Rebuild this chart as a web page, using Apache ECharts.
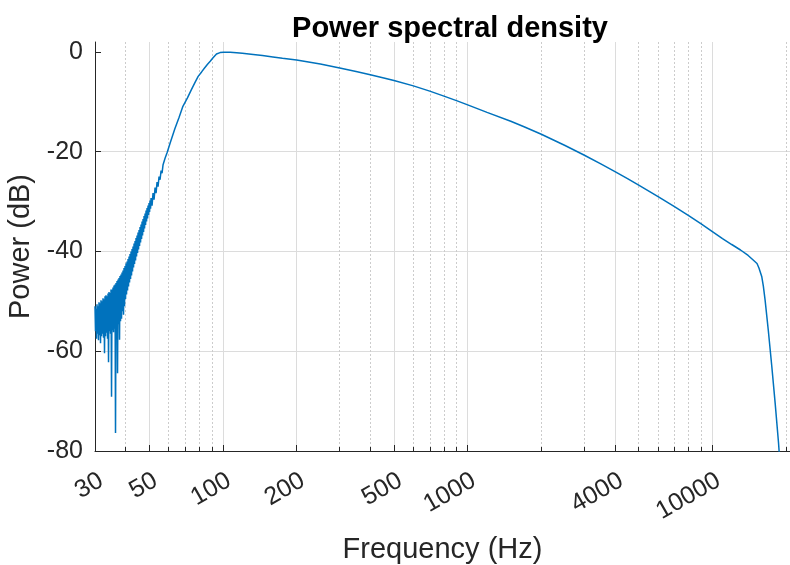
<!DOCTYPE html>
<html>
<head>
<meta charset="utf-8">
<script src="https://cdn.jsdelivr.net/npm/echarts@6/dist/echarts.min.js"></script>
<style>
html,body{margin:0;padding:0;background:#fff;}
#chart{width:790px;height:565px;}
</style>
</head>
<body>
<div id="chart"></div>
<script>
// Frequency (Hz) and power (dB)
const freqHz = [
  30.00,30.14,30.28,30.43,30.57,30.71,30.86,31.00,31.15,31.30,
  31.45,31.60,31.74,31.89,32.04,32.20,32.35,32.50,32.65,32.81,
  32.96,33.12,33.27,33.43,33.59,33.75,33.91,34.07,34.23,34.39,
  34.55,34.72,34.88,35.05,35.21,35.38,35.54,35.71,35.88,36.05,
  36.22,36.39,36.56,36.74,36.91,37.09,37.26,37.44,37.61,37.79,
  37.96,38.14,38.32,38.51,38.69,38.87,39.05,39.24,39.42,39.61,
  39.80,39.99,40.17,40.36,40.55,40.75,40.94,41.13,41.33,41.52,
  41.72,41.92,42.11,42.31,42.51,42.71,42.91,43.12,43.32,43.52,
  43.73,43.94,44.14,44.35,44.56,44.77,44.98,45.20,45.41,45.62,
  45.84,46.06,46.27,46.49,46.71,46.93,47.15,47.38,47.60,47.82,
  48.05,48.28,48.50,48.73,48.96,49.19,49.42,49.66,49.89,50.13,
  50.36,50.60,
  50.84,51.32,51.80,52.29,52.79,53.29,53.79,54.30,54.81,55.33,
  55.86,56.38,56.92,57.46,58.00,58.55,59.10,
  60.8,63.6,66.2,68.6,71.6,74.4,76.9,79.2,81.8,84.4,86.5,88.7,91.1,92.6,94.1,95.8,97.3,100.6,107,113.7,
  120,133,145,160,175,200,250,300,350,400,450,500,600,700,800,900,1000,1200,1500,1700,
  2000,2500,3000,3500,4000,4500,5000,6000,7000,8000,9000,10000,11000,12000,13030,14000,14680,
  15220,15500,15910,16160,16420,16940,17490,18060,18630,18800
];
const powerDb = [
  -51.0,-56.0,-51.5,-57.5,-50.6,-56.5,-51.0,-57.8,-50.2,-56.8,
  -50.4,-58.4,-49.8,-57.0,-50.0,-56.5,-49.4,-57.3,-49.6,-60.4,
  -49.0,-57.0,-48.8,-56.3,-49.0,-57.5,-48.4,-62.2,-48.1,-56.0,
  -48.3,-56.5,-47.6,-69.1,-47.6,-55.8,-47.2,-56.2,-46.8,-55.5,
  -46.6,-76.4,-46.3,-55.0,-45.9,-64.4,-45.6,-54.6,-45.3,-57.7,
  -44.9,-54.0,-44.6,-53.5,-44.2,-52.0,-43.8,-52.7,-43.3,-51.0,
  -42.9,-49.5,-42.4,-48.6,-42.0,-47.8,-41.5,-47.0,-41.0,-46.2,
  -40.5,-45.5,-40.0,-44.8,-39.5,-44.0,-39.0,-43.2,-38.4,-42.5,
  -37.9,-41.8,-37.3,-41.0,-36.8,-40.3,-36.2,-39.6,-35.7,-38.9,
  -35.1,-38.2,-34.6,-37.5,-34.0,-36.8,-33.5,-36.1,-32.9,-35.4,
  -32.4,-34.7,-31.8,-34.0,-31.3,-33.4,-30.8,-32.7,-30.3,-32.1,
  -29.8,-31.4,
  -29.3,-30.8,-28.3,-29.6,-27.2,-28.3,-26.1,-27.0,-25.0,-25.6,
  -23.8,-24.3,-22.6,-22.9,-21.3,-21.3,-20.2,
  -18.3,-15.4,-13.1,-10.9,-9.2,-7.5,-6.1,-4.9,-4.0,-3.1,-2.45,-1.85,-1.15,-0.75,-0.4,-0.2,-0.12,-0.06,-0.05,-0.15,
  -0.25,-0.5,-0.72,-1.0,-1.25,-1.6,-2.4,-3.2,-3.9,-4.55,-5.15,-5.7,-6.8,-7.85,-8.85,-9.75,-10.6,-12.1,-13.9,-15.0,
  -16.5,-18.75,-20.7,-22.45,-24.0,-25.4,-26.7,-29.0,-31.0,-32.8,-34.45,-36.0,-37.4,-38.6,-39.7,-40.8,-41.7,
  -42.4,-43.3,-45.0,-47.0,-49.7,-56.0,-63.0,-70.5,-78.3,-81.0
];
const xMajorTicks = [30,50,100,200,500,1000,4000,10000];
const xMinorTicks = [40,60,70,80,90,300,400,600,700,800,900,2000,3000,5000,6000,7000,8000,9000,20000];
const yTicks = [-80,-60,-40,-20,0];
const titleText = 'Power spectral density';
const xName = 'Frequency (Hz)';
const yName = 'Power (dB)';

const FONT = '"Liberation Sans", Arial, Helvetica, sans-serif';
const TXT = '#262626';
const X_MIN = 30, X_MAX = 20760;
const chart = echarts.init(document.getElementById('chart'), null, {renderer: 'canvas'});
const seriesData = freqHz.map((f, i) => [f, powerDb[i]]);

chart.setOption({
  animation: false,
  backgroundColor: '#ffffff',
  title: {
    text: titleText,
    left: 445, top: 9, textAlign: 'center',
    textStyle: {fontFamily: FONT, fontSize: 29, fontWeight: 'bold', color: '#000000'}
  },
  grid: {left: 95, right: 0, top: 42, bottom: 114, containLabel: false, outerBoundsMode: 'none'},
  xAxis: [{
    type: 'log', logBase: 10, min: X_MIN, max: X_MAX,
    name: xName, nameLocation: 'middle', nameGap: 84,
    nameTextStyle: {fontFamily: FONT, fontSize: 29, color: TXT},
    axisLine: {show: true, onZero: false, lineStyle: {color: TXT, width: 1}},
    axisTick: {show: true, inside: true, length: 6, customValues: xMajorTicks, lineStyle: {color: TXT}},
    axisLabel: {show: true, customValues: xMajorTicks, rotate: 30, verticalAlign: 'top', margin: 17,
      fontFamily: FONT, fontSize: 25, color: TXT, formatter: v => String(Math.round(v))},
    splitLine: {show: true, showMinLine: false, lineStyle: {color: '#dcdcdc', width: 1, type: 'solid'}},
    minorTick: {show: false}, minorSplitLine: {show: false}
  }, {
    type: 'log', logBase: 10, min: X_MIN, max: X_MAX, gridIndex: 0, position: 'bottom',
    axisLine: {show: false, onZero: false},
    axisTick: {show: true, inside: true, length: 4, customValues: xMinorTicks, lineStyle: {color: TXT}},
    axisLabel: {show: false},
    splitLine: {show: true, lineStyle: {color: '#cccccc', width: 1, type: [2, 2]}},
    minorTick: {show: false}, minorSplitLine: {show: false}
  }],
  yAxis: {
    type: 'value', min: -80, max: 2, interval: 20,
    name: yName, nameLocation: 'middle', nameGap: 55,
    nameTextStyle: {fontFamily: FONT, fontSize: 29, color: TXT},
    axisLine: {show: true, onZero: false, lineStyle: {color: TXT, width: 1}},
    axisTick: {show: true, inside: true, length: 6, customValues: yTicks, lineStyle: {color: TXT}},
    axisLabel: {show: true, customValues: yTicks, margin: 12, fontFamily: FONT, fontSize: 25, color: TXT},
    splitLine: {show: true, showMinLine: false, showMaxLine: false, lineStyle: {color: '#dcdcdc', width: 1}}
  },
  series: [{
    type: 'line', xAxisIndex: 0, yAxisIndex: 0,
    data: seriesData, showSymbol: false, symbol: 'none', smooth: false,
    clip: true, lineStyle: {color: '#0072BD', width: 1.5}, z: 5
  }]
});
</script>
</body>
</html>
